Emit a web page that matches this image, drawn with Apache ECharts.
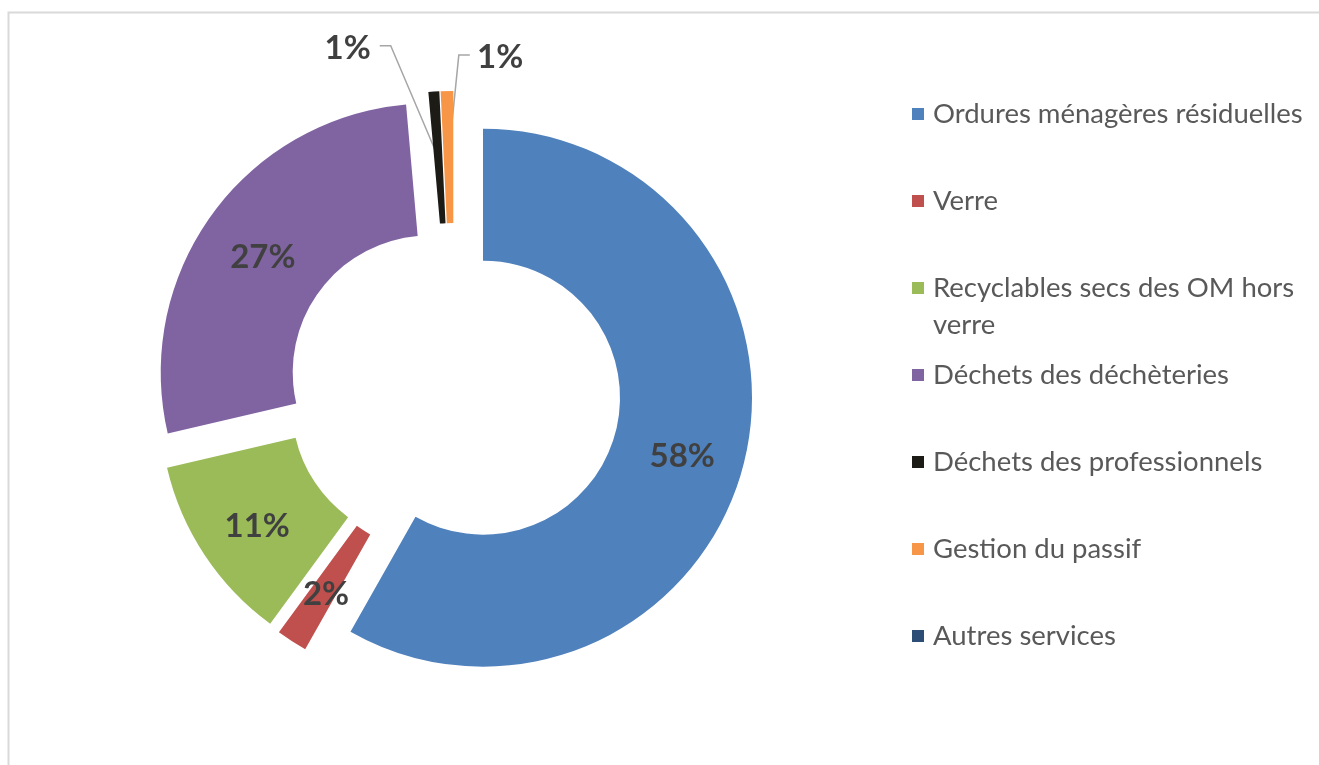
<!DOCTYPE html>
<html>
<head>
<meta charset="utf-8">
<script src="https://cdn.jsdelivr.net/npm/echarts@6/dist/echarts.min.js"></script>
<style>
	html, body { margin: 0; padding: 0; background: #fff; }
	#chart { width: 1319px; height: 765px; }
</style>
</head>
<body>
<div id="chart"></div>
<script>
"use strict";

var categories = [
	'Ordures ménagères résiduelles',
	'Verre',
	'Recyclables secs des OM hors verre',
	'Déchets des déchèteries',
	'Déchets des professionnels',
	'Gestion du passif',
	'Autres services'
];
var shares = [58.2, 1.85, 11.3, 27.25, 0.65, 0.75, 0];
var colors = ['#4f81bd', '#c0504d', '#9bbb59', '#8064a2', '#1d1b16', '#f79646', '#2c4d75'];

var radii = [137, 269];
var labelGap = 9;
// small slices get an outside label with a leader line (side: -1 left, 1 right)
var outside = {
	4: { length: 46, length2: 51, side: -1 },
	5: { length: 36, length2: 22, side: 1 }
};

// legend geometry: first marker centre, row step, line height
var legendTop = 114, legendStep = 87, legendLine = 37;
var legendFont = { fontFamily: 'Lato', fontSize: 27.5, color: '#595959' };
// the long legend entry wraps after this word, like in the office chart
var wrapAfter = ' hors';

var chart = echarts.init(document.getElementById('chart'));

var data = [];
for (var i = 0, len = categories.length; i < len; i++) {
	var item = {
		name: categories[i],
		value: shares[i],
		selected: true,
		itemStyle: { color: colors[i] },
		select: { itemStyle: { color: colors[i] } }
	};
	if (outside[i]) {
		item.labelLine = { show: true, length: outside[i].length, length2: outside[i].length2 };
		// right side labels are flipped in labelLayout, the text is shifted along
		item.label = { padding: [5, 0, 0, outside[i].side > 0 ? 2 * (outside[i].length2 + labelGap) : 0] };
	} else if (shares[i] > 0) {
		item.label = { position: 'inside' };
		item.labelLine = { show: false };
	} else {
		item.label = { show: false };
		item.labelLine = { show: false };
	}
	data.push(item);
}

// second line of the wrapped legend entry
var graphics = [{
	type: 'rect',
	left: 6,
	top: 10,
	shape: { width: 1400, height: 800 },
	style: { fill: null, stroke: '#d9d9d9', lineWidth: 2 },
	silent: true
}];
categories.forEach(function (name, idx) {
	var k = name.indexOf(wrapAfter);
	if (k > 0) {
		graphics.push({
			type: 'text',
			x: 933,
			y: legendTop + idx * legendStep + legendLine,
			silent: true,
			style: {
				text: name.slice(k + wrapAfter.length + 1),
				fontFamily: legendFont.fontFamily,
				fontSize: legendFont.fontSize,
				fill: legendFont.color,
				verticalAlign: 'middle'
			}
		});
	}
});

var option = {
	animation: false,
	graphic: graphics,
	legend: {
		orient: 'vertical',
		left: 912,
		top: legendTop - legendLine / 2,
		padding: 0,
		icon: 'rect',
		itemWidth: 12,
		itemHeight: 12,
		itemGap: legendStep - legendLine,
		selectedMode: false,
		formatter: function (name) {
			var k = name.indexOf(wrapAfter);
			return k > 0 ? name.slice(0, k + wrapAfter.length) : name;
		},
		textStyle: {
			fontFamily: legendFont.fontFamily,
			fontSize: legendFont.fontSize,
			color: legendFont.color,
			lineHeight: legendLine,
			padding: [0, 0, 0, 4]
		},
		data: categories
	},
	series: [{
		type: 'pie',
		center: [454, 390],
		radius: radii,
		startAngle: 90,
		clockwise: true,
		selectedMode: 'multiple',
		selectedOffset: 30,
		avoidLabelOverlap: false,
		silent: true,
		emphasis: { disabled: true },
		label: {
			position: 'outside',
			formatter: function (p) {
				return '{v|' + Math.round(p.percent) + '%}';
			},
			padding: [12, 0, 0, 0],
			distanceToLabelLine: labelGap,
			rich: {
				v: { fontFamily: 'Lato', fontWeight: 'bold', fontSize: 33, color: '#404040' }
			}
		},
		labelLine: {
			show: true,
			lineStyle: { color: '#a6a6a6', width: 1.5 }
		},
		labelLayout: function (params) {
			var conf = outside[params.dataIndex];
			var pts = params.labelLinePoints;
			if (!conf || !pts) {
				return;
			}
			var ux = pts[1][0] - pts[0][0];
			var uy = pts[1][1] - pts[0][1];
			var ul = Math.sqrt(ux * ux + uy * uy) || 1;
			var half = (radii[1] - radii[0]) / 2;
			// leader starts in the middle of the ring
			var start = [pts[0][0] - ux / ul * half, pts[0][1] - uy / ul * half];
			var end = pts[pts.length - 1].slice();
			if (conf.side > 0) {
				end[0] = 2 * pts[0][0] - end[0];
			}
			var knee = [end[0] - conf.side * 11, end[1]];
			var out = { labelLinePoints: [start, knee, end] };
			if (conf.side > 0) {
				out.align = 'left';
			}
			return out;
		},
		data: data
	}]
};

chart.setOption(option);
</script>
</body>
</html>
